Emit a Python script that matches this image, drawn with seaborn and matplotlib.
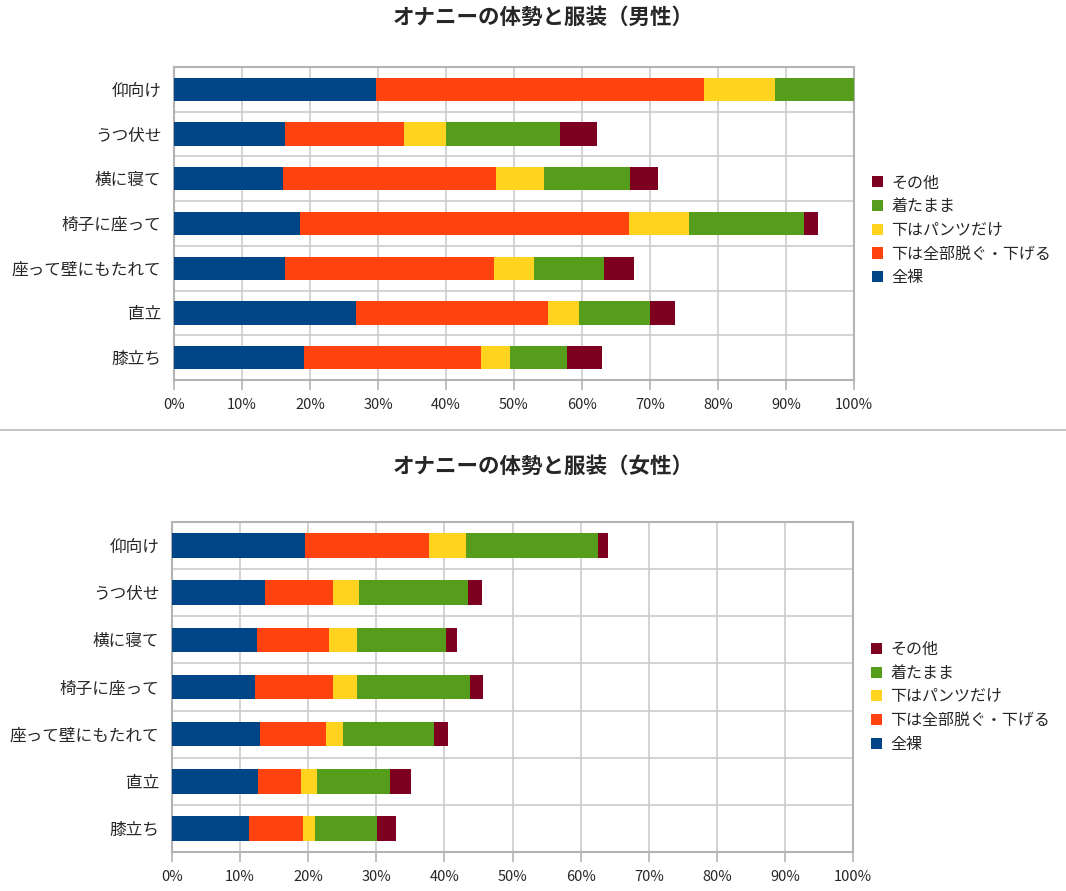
import matplotlib
matplotlib.use("Agg")
import matplotlib.pyplot as plt
import numpy as np
import pandas as pd
import seaborn as sns
from matplotlib.patches import Patch
from matplotlib.lines import Line2D

# カテゴリ(体勢)
categories = ["仰向け", "うつ伏せ", "横に寝て", "椅子に座って",
              "座って壁にもたれて", "直立", "膝立ち"]
series_names = ["全裸", "下は全部脱ぐ・下げる", "下はパンツだけ", "着たまま", "その他"]
colors = ["#004586", "#ff420e", "#ffd320", "#579d1c", "#7e0021"]

# 男性 (%)
male_zenra = [29.7, 16.3, 16.0, 18.5, 16.3, 26.8, 19.1]
male_nugu = [48.2, 17.5, 31.4, 48.4, 30.8, 28.2, 26.0]
male_pants = [10.5, 6.2, 7.0, 8.8, 5.8, 4.6, 4.3]
male_kita = [11.6, 16.8, 12.7, 16.9, 10.3, 10.4, 8.4]
male_other = [0.0, 5.4, 4.1, 2.1, 4.4, 3.7, 5.1]

# 女性 (%)
female_zenra = [19.6, 13.7, 12.5, 12.2, 12.9, 12.6, 11.3]
female_nugu = [18.1, 9.9, 10.5, 11.5, 9.7, 6.3, 7.9]
female_pants = [5.4, 3.8, 4.1, 3.4, 2.5, 2.4, 1.8]
female_kita = [19.4, 16.0, 13.1, 16.7, 13.4, 10.7, 9.1]
female_other = [1.5, 2.1, 1.7, 1.8, 2.1, 3.1, 2.8]

titles = ["オナニーの体勢と服装（男性）", "オナニーの体勢と服装（女性）"]

sns.set_theme(style="white")
plt.rcParams["font.family"] = ["Noto Sans CJK JP", "DejaVu Sans"]

GRID = "#cccccc"
SPINE = "#b3b3b3"


def draw_stack(ax, data, legend_y):
    df = pd.DataFrame(data, index=categories, columns=series_names)
    cum = df.cumsum(axis=1)
    # 奥から順に(合計が大きい方から)描画
    for name, col in reversed(list(zip(series_names, colors))):
        sns.barplot(x=cum[name].values, y=categories, color=col, orient="h",
                    width=0.52, saturation=1, linewidth=0, edgecolor="none",
                    ax=ax, zorder=3)
    ax.set_xlim(0, 100)
    ax.set_ylim(6.5, -0.5)
    ax.set_xticks(np.arange(0, 101, 10))
    ax.set_xticklabels([f"{v}%" for v in range(0, 101, 10)], fontsize=10.5)
    ax.set_yticks(np.arange(-0.5, 7, 1), minor=True)
    ax.tick_params(axis="y", which="major", length=0, pad=9, labelsize=12)
    ax.tick_params(axis="y", which="minor", length=7, color=SPINE, width=1.2)
    ax.tick_params(axis="x", which="major", length=7, color=SPINE, width=1.2,
                   pad=6, bottom=True)
    ax.grid(True, axis="x", which="major", color=GRID, lw=1.2, zorder=0)
    ax.grid(True, axis="y", which="minor", color=GRID, lw=1.2, zorder=0)
    ax.set_axisbelow(True)
    for sp in ax.spines.values():
        sp.set_visible(True)
        sp.set_color(SPINE)
        sp.set_linewidth(1.5)
    ax.set_xlabel("")
    ax.set_ylabel("")
    handles = [Patch(facecolor=c, edgecolor="none") for c in reversed(colors)]
    ax.legend(handles, list(reversed(series_names)), loc="center left",
              bbox_to_anchor=(1.01, legend_y), frameon=False, fontsize=11.5,
              handlelength=0.7, handleheight=0.7, handletextpad=0.5,
              labelspacing=0.42, borderaxespad=0.3)


fig = plt.figure(figsize=(10.66, 8.91), dpi=100)
ax1 = fig.add_axes([174 / 1066, 1 - 380 / 891, 680 / 1066, 313 / 891])
ax2 = fig.add_axes([172 / 1066, 1 - 852 / 891, 681 / 1066, 330 / 891])

male = np.array([male_zenra, male_nugu, male_pants, male_kita, male_other]).T
female = np.array([female_zenra, female_nugu, female_pants, female_kita, female_other]).T
draw_stack(ax1, male, 0.478)
draw_stack(ax2, female, 0.47)

fig.text(543 / 1066, 1 - 17 / 891, titles[0], ha="center", va="center",
         fontsize=15.5, fontweight="bold")
fig.text(543 / 1066, 1 - 466 / 891, titles[1], ha="center", va="center",
         fontsize=15.5, fontweight="bold")

# 上下のチャートの区切り線
fig.add_artist(Line2D([0, 1], [1 - 430.5 / 891, 1 - 430.5 / 891],
                      transform=fig.transFigure, color="#bbbbbb", lw=1.2))

fig.savefig("out.png", dpi=100, facecolor="white")
